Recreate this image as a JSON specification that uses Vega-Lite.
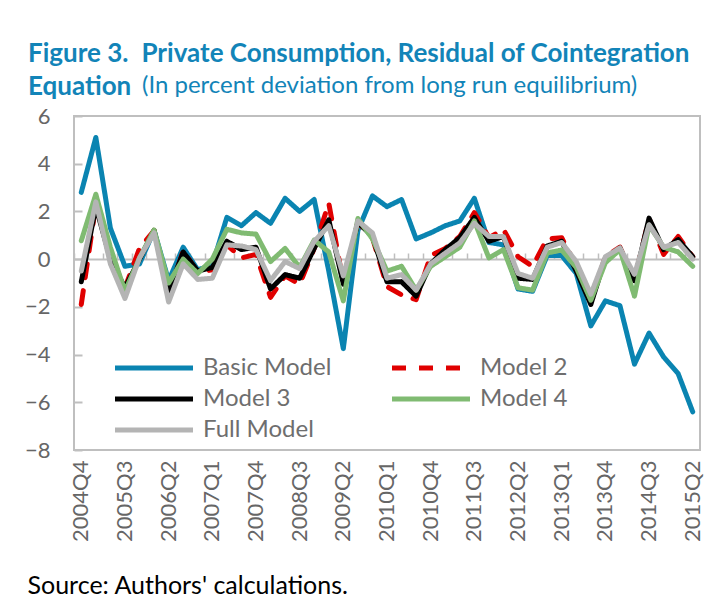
{
  "$schema": "https://vega.github.io/schema/vega-lite/v6.json",
  "width": 626,
  "height": 334,
  "autosize": {"type": "none"},
  "padding": {"left": 74, "top": 116, "right": 17, "bottom": 156},
  "background": "white",
  "title": {
    "text": ["Figure 3.\u2002Private Consumption, Residual of Cointegration", "Equation"],
    "subtitle": "\u200B\u2003\u2003\u2003\u2003\u2003\u2002\u2002(In percent deviation from long run equilibrium)",
    "anchor": "start",
    "frame": "group",
    "dx": -46,
    "font": "Lato",
    "fontSize": 26,
    "fontWeight": "bold",
    "color": "#1284b8",
    "lineHeight": 33,
    "subtitleFont": "Lato",
    "subtitleFontSize": 24,
    "subtitleFontWeight": "normal",
    "subtitleColor": "#1284b8",
    "subtitlePadding": -26,
    "offset": 5
  },
  "data": {
    "values": [
      {"q": "2004Q4", "Basic Model": 2.8, "Model 2": -1.9, "Model 3": -0.95, "Model 4": 0.77, "Full Model": -0.5},
      {"q": "2005Q1", "Basic Model": 5.1, "Model 2": 2.3, "Model 3": 2.2, "Model 4": 2.72, "Full Model": 2.4},
      {"q": "2005Q2", "Basic Model": 1.3, "Model 2": 0.1, "Model 3": 0.0, "Model 4": 0.5, "Full Model": -0.2},
      {"q": "2005Q3", "Basic Model": -0.3, "Model 2": -1.2, "Model 3": -1.2, "Model 4": -1.35, "Full Model": -1.65},
      {"q": "2005Q4", "Basic Model": -0.2, "Model 2": 0.45, "Model 3": 0.0, "Model 4": 0.05, "Full Model": 0.05},
      {"q": "2006Q1", "Basic Model": 1.2, "Model 2": 1.2, "Model 3": 1.2, "Model 4": 1.22, "Full Model": 1.1},
      {"q": "2006Q2", "Basic Model": -0.9, "Model 2": -1.5, "Model 3": -1.35, "Model 4": -1.0, "Full Model": -1.8},
      {"q": "2006Q3", "Basic Model": 0.5, "Model 2": 0.35, "Model 3": 0.3, "Model 4": 0.0, "Full Model": -0.2},
      {"q": "2006Q4", "Basic Model": -0.45, "Model 2": -0.55, "Model 3": -0.5, "Model 4": -0.6, "Full Model": -0.85},
      {"q": "2007Q1", "Basic Model": -0.25, "Model 2": -0.45, "Model 3": -0.35, "Model 4": 0.0, "Full Model": -0.8},
      {"q": "2007Q2", "Basic Model": 1.75, "Model 2": 0.6, "Model 3": 0.75, "Model 4": 1.25, "Full Model": 0.6},
      {"q": "2007Q3", "Basic Model": 1.4, "Model 2": 0.05, "Model 3": 0.4, "Model 4": 1.1, "Full Model": 0.55},
      {"q": "2007Q4", "Basic Model": 1.95, "Model 2": 0.2, "Model 3": 0.5, "Model 4": 1.05, "Full Model": 0.4},
      {"q": "2008Q1", "Basic Model": 1.5, "Model 2": -1.6, "Model 3": -1.25, "Model 4": -0.1, "Full Model": -0.9},
      {"q": "2008Q2", "Basic Model": 2.55, "Model 2": -0.7, "Model 3": -0.65, "Model 4": 0.45, "Full Model": -0.1},
      {"q": "2008Q3", "Basic Model": 2.0, "Model 2": -1.05, "Model 3": -0.8, "Model 4": -0.35, "Full Model": -0.4},
      {"q": "2008Q4", "Basic Model": 2.5, "Model 2": 0.45, "Model 3": 0.45, "Model 4": 0.8, "Full Model": 0.75},
      {"q": "2009Q1", "Basic Model": -0.5, "Model 2": 2.35, "Model 3": 1.65, "Model 4": 0.3, "Full Model": 1.4},
      {"q": "2009Q2", "Basic Model": -3.75, "Model 2": -1.0, "Model 3": -1.05, "Model 4": -1.75, "Full Model": -0.7},
      {"q": "2009Q3", "Basic Model": 1.2, "Model 2": 1.55, "Model 3": 1.55, "Model 4": 1.7, "Full Model": 1.6},
      {"q": "2009Q4", "Basic Model": 2.65, "Model 2": 0.9, "Model 3": 0.95, "Model 4": 0.85, "Full Model": 1.1},
      {"q": "2010Q1", "Basic Model": 2.2, "Model 2": -1.15, "Model 3": -0.95, "Model 4": -0.5, "Full Model": -0.8},
      {"q": "2010Q2", "Basic Model": 2.5, "Model 2": -1.5, "Model 3": -0.95, "Model 4": -0.3, "Full Model": -0.65},
      {"q": "2010Q3", "Basic Model": 0.85, "Model 2": -1.7, "Model 3": -1.55, "Model 4": -1.3, "Full Model": -1.3},
      {"q": "2010Q4", "Basic Model": 1.1, "Model 2": 0.15, "Model 3": -0.2, "Model 4": -0.3, "Full Model": -0.2},
      {"q": "2011Q1", "Basic Model": 1.4, "Model 2": 0.45, "Model 3": 0.4, "Model 4": 0.1, "Full Model": 0.25},
      {"q": "2011Q2", "Basic Model": 1.6, "Model 2": 0.95, "Model 3": 0.9, "Model 4": 0.5, "Full Model": 0.68},
      {"q": "2011Q3", "Basic Model": 2.55, "Model 2": 1.95, "Model 3": 1.75, "Model 4": 1.6, "Full Model": 1.5},
      {"q": "2011Q4", "Basic Model": 0.7, "Model 2": 0.9, "Model 3": 0.75, "Model 4": 0.05, "Full Model": 0.95},
      {"q": "2012Q1", "Basic Model": 0.6, "Model 2": 1.25, "Model 3": 0.95, "Model 4": 0.4, "Full Model": 0.95},
      {"q": "2012Q2", "Basic Model": -1.25, "Model 2": 0.1, "Model 3": -0.8, "Model 4": -1.2, "Full Model": -0.6},
      {"q": "2012Q3", "Basic Model": -1.35, "Model 2": -0.3, "Model 3": -0.85, "Model 4": -1.3, "Full Model": -0.8},
      {"q": "2012Q4", "Basic Model": 0.15, "Model 2": 0.85, "Model 3": 0.55, "Model 4": 0.26, "Full Model": 0.5},
      {"q": "2013Q1", "Basic Model": 0.15, "Model 2": 0.9, "Model 3": 0.75, "Model 4": 0.38, "Full Model": 0.7},
      {"q": "2013Q2", "Basic Model": -0.6, "Model 2": -0.3, "Model 3": -0.5, "Model 4": -0.35, "Full Model": -0.1},
      {"q": "2013Q3", "Basic Model": -2.8, "Model 2": -1.75, "Model 3": -1.9, "Model 4": -1.72, "Full Model": -1.47},
      {"q": "2013Q4", "Basic Model": -1.75, "Model 2": 0.1, "Model 3": 0.05, "Model 4": -0.15, "Full Model": 0.1},
      {"q": "2014Q1", "Basic Model": -1.95, "Model 2": 0.5, "Model 3": 0.47, "Model 4": 0.4, "Full Model": 0.47},
      {"q": "2014Q2", "Basic Model": -4.4, "Model 2": -0.85, "Model 3": -0.9, "Model 4": -1.55, "Full Model": -0.64},
      {"q": "2014Q3", "Basic Model": -3.1, "Model 2": 1.7, "Model 3": 1.72, "Model 4": 1.42, "Full Model": 1.44},
      {"q": "2014Q4", "Basic Model": -4.1, "Model 2": 0.2, "Model 3": 0.4, "Model 4": 0.5, "Full Model": 0.5},
      {"q": "2015Q1", "Basic Model": -4.8, "Model 2": 0.95, "Model 3": 0.82, "Model 4": 0.3, "Full Model": 0.7},
      {"q": "2015Q2", "Basic Model": -6.4, "Model 2": 0.1, "Model 3": 0.1, "Model 4": -0.3, "Full Model": 0.0}
    ]
  },
  "transform": [
    {"fold": ["Basic Model", "Model 2", "Model 3", "Model 4", "Full Model"], "as": ["series", "value"]}
  ],
  "layer": [
    {
      "mark": {"type": "line", "strokeWidth": 5, "strokeCap": "round", "strokeJoin": "round"},
      "encoding": {
        "x": {
          "field": "q",
          "type": "ordinal",
          "bandPosition": 0.5,
          "scale": {"type": "band", "paddingInner": 0, "paddingOuter": 0},
          "axis": {
            "orient": "bottom",
            "values": ["2004Q4", "2005Q3", "2006Q2", "2007Q1", "2007Q4", "2008Q3", "2009Q2", "2010Q1", "2010Q4", "2011Q3", "2012Q2", "2013Q1", "2013Q4", "2014Q3", "2015Q2"],
            "labelAngle": -90,
            "labelAlign": "right",
            "labelBaseline": "middle",
            "labelPadding": 10,
            "labelFontSize": 22,
            "labelColor": "#666666",
            "labelFont": "Lato",
            "ticks": false,
            "domain": false,
            "grid": false,
            "title": "Source: Authors' calculations.",
            "titleFont": "Lato",
            "titleFontSize": 25,
            "titleFontWeight": "normal",
            "titleColor": "#000000",
            "titleAnchor": "start",
            "titleAlign": "left",
            "titleBaseline": "alphabetic",
            "titleX": -47,
            "titleY": 143
          }
        },
        "y": {
          "field": "value",
          "type": "quantitative",
          "scale": {"domain": [-8, 6], "nice": false, "zero": false},
          "axis": {
            "values": [-8, -6, -4, -2, 0, 2, 4, 6],
            "tickSize": -8,
            "tickColor": "#bfbfbf",
            "tickWidth": 2,
            "domain": false,
            "grid": false,
            "labelPadding": 32,
            "labelFontSize": 22,
            "labelColor": "#666666",
            "labelFont": "Lato",
            "title": null
          }
        },
        "color": {
          "field": "series",
          "type": "nominal",
          "scale": {
            "domain": ["Basic Model", "Model 2", "Model 3", "Model 4", "Full Model"],
            "range": ["#0a84b1", "#e00000", "#000000", "#80bb72", "#b4b4b4"]
          },
          "legend": {
            "title": null,
            "orient": "none",
            "direction": "horizontal",
            "legendX": 39,
            "legendY": 240,
            "columns": 2,
            "columnPadding": 50,
            "rowPadding": 7,
            "symbolType": "M-6,0H6",
            "symbolSize": 169,
            "symbolOffset": 29,
            "symbolStrokeWidth": 5,
            "labelFontSize": 24,
            "labelFont": "Lato",
            "labelColor": "#6e6e6e",
            "labelOffset": 37,
            "labelLimit": 300
          }
        },
        "strokeDash": {
          "field": "series",
          "type": "nominal",
          "scale": {
            "domain": ["Basic Model", "Model 2", "Model 3", "Model 4", "Full Model"],
            "range": [[1, 0], [14, 13], [1, 0], [1, 0], [1, 0]]
          },
          "legend": {
            "title": null,
            "orient": "none",
            "direction": "horizontal",
            "legendX": 39,
            "legendY": 240,
            "columns": 2,
            "columnPadding": 50,
            "rowPadding": 7,
            "symbolType": "M-6,0H6",
            "symbolSize": 169,
            "symbolOffset": 29,
            "symbolStrokeWidth": 5,
            "labelFontSize": 24,
            "labelFont": "Lato",
            "labelColor": "#6e6e6e",
            "labelOffset": 37,
            "labelLimit": 300
          }
        }
      }
    },
    {
      "mark": {"type": "rule", "opacity": 0},
      "encoding": {
        "x": {
          "field": "q",
          "type": "ordinal",
          "axis": {
            "orient": "top",
            "offset": -143,
            "bandPosition": 0,
            "labels": false,
            "ticks": true,
            "tickSize": 6,
            "tickColor": "#bfbfbf",
            "tickWidth": 1.5,
            "domain": true,
            "domainColor": "#bfbfbf",
            "domainWidth": 2,
            "grid": false,
            "title": null
          }
        }
      }
    }
  ],
  "resolve": {"axis": {"x": "independent"}},
  "config": {
    "view": {"stroke": "#bfbfbf", "strokeWidth": 2},
    "font": "Lato"
  }
}
